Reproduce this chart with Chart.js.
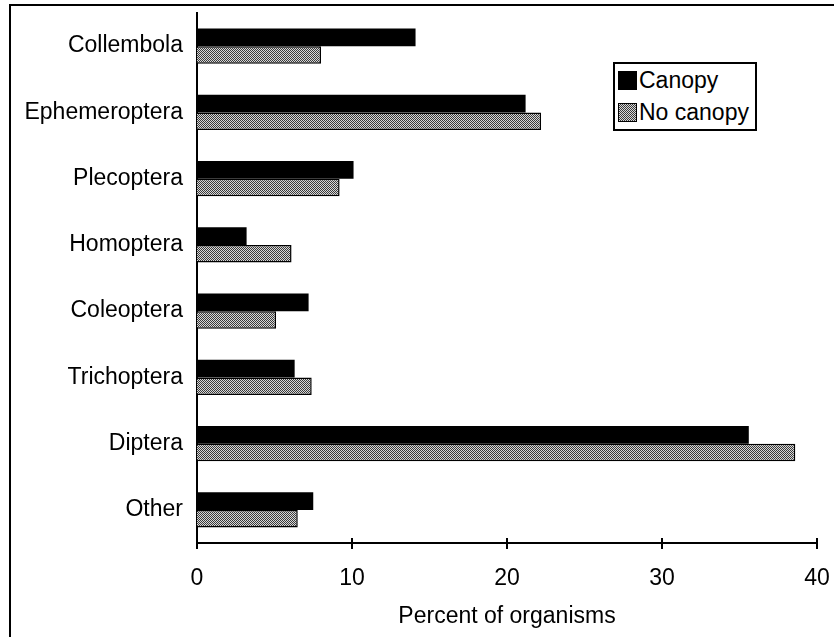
<!DOCTYPE html>
<html>
<head>
<meta charset="utf-8">
<script src="https://cdn.jsdelivr.net/npm/chart.js@4/dist/chart.umd.min.js"></script>
<style>
  body { margin: 0; background: #fff; }
  #wrap { position: relative; width: 834px; height: 637px; }
  #legend {
    position: absolute; left: 613px; top: 62px; width: 140px; height: 65px;
    border: 2px solid #000; background: #fff;
    font-family: "Liberation Sans", Arial, sans-serif; font-size: 23px; color: #000;
  }
  #legend div { display: flex; align-items: center; height: 32px; padding-left: 3px; }
  #legend span.box { width: 19px; height: 19px; margin-right: 2px; box-sizing: border-box; border: 1px solid #000; }
</style>
</head>
<body>
<div id="wrap">
  <canvas id="grafico" width="834" height="637"></canvas>
  <div id="legend"></div>
</div>
<script>
let categorias = ["Collembola", "Ephemeroptera", "Plecoptera", "Homoptera", "Coleoptera", "Trichoptera", "Diptera", "Other"];
let canopy = [14.1, 21.2, 10.1, 3.2, 7.2, 6.3, 35.6, 7.5];
let noCanopy = [8.0, 22.2, 9.2, 6.1, 5.1, 7.4, 38.6, 6.5];
let xTicks = [0, 10, 20, 30, 40];
let nomes = ["Canopy", "No canopy"];

// trama cinza pontilhada das barras "No canopy"
let pc = document.createElement("canvas");
pc.width = 2; pc.height = 2;
let p = pc.getContext("2d");
p.fillStyle = "#d8d8d8"; p.fillRect(0, 0, 2, 2);
p.fillStyle = "#3a3a3a"; p.fillRect(0, 0, 1, 1); p.fillRect(1, 1, 1, 1);
let ctx = document.getElementById("grafico").getContext("2d");
let trama = ctx.createPattern(pc, "repeat");

let fonte = { family: "'Liberation Sans', Arial, sans-serif", size: 23 };

// moldura (esquerda e topo) e marcas do eixo x
let extras = {
  id: "extras",
  beforeDraw(chart) {
    let c = chart.ctx;
    c.save();
    c.strokeStyle = "#000"; c.lineWidth = 2;
    c.beginPath();
    c.moveTo(10, 637); c.lineTo(10, 5); c.lineTo(834, 5);
    c.stroke();
    c.restore();
  },
  afterDraw(chart) {
    let c = chart.ctx, x = chart.scales.x, a = chart.chartArea;
    c.save();
    c.strokeStyle = "#000"; c.lineWidth = 2;
    xTicks.forEach(v => {
      let px = x.getPixelForValue(v);
      c.beginPath(); c.moveTo(px, a.bottom - 5); c.lineTo(px, a.bottom + 6); c.stroke();
    });
    c.restore();
  }
};

let grafico = new Chart(ctx, {
  type: "bar",
  data: {
    labels: categorias,
    datasets: [{
      label: nomes[0],
      data: canopy,
      backgroundColor: "#000",
      borderColor: "#000",
      borderWidth: 0
    }, {
      label: nomes[1],
      data: noCanopy,
      backgroundColor: trama,
      borderColor: "#000",
      borderWidth: 1.5
    }]
  },
  options: {
    indexAxis: "y",
    responsive: false,
    animation: false,
    layout: { padding: { top: 13, right: 17, left: 0, bottom: 0 } },
    categoryPercentage: 0.53,
    barPercentage: 1.0,
    plugins: { legend: { display: false }, tooltip: { enabled: false } },
    scales: {
      x: {
        min: 0, max: 40,
        afterBuildTicks: s => { s.ticks = xTicks.map(v => ({ value: v })); },
        afterFit: s => { s.height = 94; s.paddingLeft = 0; s.paddingRight = 0; },
        grid: { display: false },
        border: { display: true, color: "#000", width: 2 },
        ticks: { color: "#000", font: fonte, padding: 14 },
        title: { display: true, text: "Percent of organisms", color: "#000", font: fonte, padding: { top: 0, bottom: 7 } }
      },
      y: {
        afterFit: s => { s.width = 197; s.paddingTop = 0; s.paddingBottom = 0; },
        grid: { display: false },
        border: { display: true, color: "#000", width: 2 },
        ticks: { color: "#000", font: fonte, padding: 6 }
      }
    }
  },
  plugins: [extras]
});

// legenda com caixa
let leg = document.getElementById("legend");
grafico.data.datasets.forEach((d, i) => {
  let fundo = i === 0 ? "#000" : "repeating-conic-gradient(#3a3a3a 0 25%, #d8d8d8 0 50%) 0 0/2px 2px";
  leg.innerHTML += `<div><span class="box" style="background:${fundo}"></span>${d.label}</div>`;
});
</script>
</body>
</html>
